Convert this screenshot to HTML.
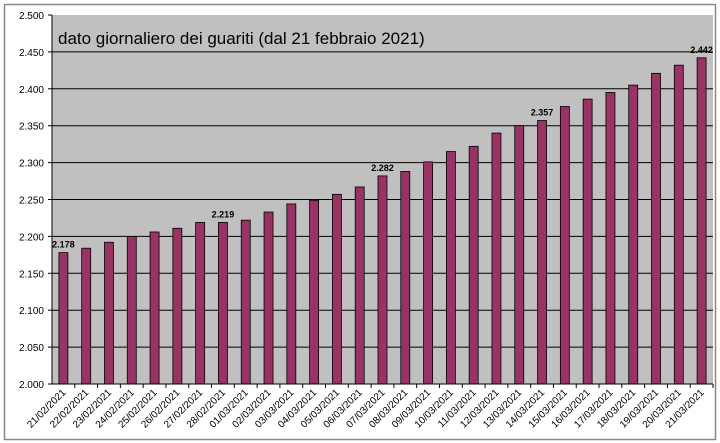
<!DOCTYPE html>
<html><head><meta charset="utf-8"><style>
html,body{margin:0;padding:0;background:#fff;}
svg{display:block;font-family:"Liberation Sans",sans-serif;}
</style></head><body>
<svg id="chart" width="720" height="443" viewBox="0 0 720 443" xmlns="http://www.w3.org/2000/svg">
<rect x="0" y="0" width="720" height="443" fill="#fff"/>
<rect x="4.5" y="4.5" width="711" height="435" fill="#fff" stroke="#888" stroke-width="1.5"/>
<rect x="52" y="15" width="661" height="369" fill="#c0c0c0"/>
<g id="grid"></g><g id="bars"></g><g id="axes"></g><g id="labels"></g>
<text x="58" y="44" font-size="17" fill="#000">dato giornaliero dei guariti (dal 21 febbraio 2021)</text>
</svg>
<script>
const categories = ["21/02/2021","22/02/2021","23/02/2021","24/02/2021","25/02/2021","26/02/2021","27/02/2021","28/02/2021","01/03/2021","02/03/2021","03/03/2021","04/03/2021","05/03/2021","06/03/2021","07/03/2021","08/03/2021","09/03/2021","10/03/2021","11/03/2021","12/03/2021","13/03/2021","14/03/2021","15/03/2021","16/03/2021","17/03/2021","18/03/2021","19/03/2021","20/03/2021","21/03/2021"];
const values = [2178,2184,2192,2200,2206,2211,2219,2219,2222,2233,2244,2249,2257,2267,2282,2288,2301,2315,2322,2340,2350,2357,2376,2386,2395,2405,2421,2432,2442];
const labelled = ["21/02/2021","28/02/2021","07/03/2021","14/03/2021","21/03/2021"];
const yTicks = [2000,2050,2100,2150,2200,2250,2300,2350,2400,2450,2500];
const yTickLabels = ["2.000","2.050","2.100","2.150","2.200","2.250","2.300","2.350","2.400","2.450","2.500"];
const NS="http://www.w3.org/2000/svg";
const L=52,R=713,T=15,B=384,YMIN=2000,YMAX=2500;
const y=v=>B-(v-YMIN)/(YMAX-YMIN)*(B-T);
const band=(R-L)/categories.length;
const x=i=>L+band*(i+0.5);
function mk(tag,attrs,parent){const e=document.createElementNS(NS,tag);for(const k in attrs)e.setAttribute(k,attrs[k]);document.getElementById(parent).appendChild(e);return e;}
const fmt=v=>{const s=String(v);return s.slice(0,s.length-3)+"."+s.slice(-3);};
yTicks.forEach((t,i)=>{
  if(i>0&&i<yTicks.length-1){const g=mk("line",{x1:L,x2:R,y1:y(t),y2:y(t),stroke:"#000","stroke-width":1},"grid");
  
  }
  const tk=mk("line",{x1:L-4,x2:L,y1:y(t),y2:y(t),stroke:"#000"},"axes");
  
  
  const tl=mk("text",{x:L-8,y:y(t)+4,"font-size":10,"text-anchor":"end",fill:"#000"},"axes");
  tl.textContent=yTickLabels[i];
  
  
});
const ya=mk("line",{x1:L,x2:L,y1:T,y2:B,stroke:"#000"},"axes");


const xa=mk("line",{x1:L,x2:R,y1:B,y2:B,stroke:"#000"},"axes");


categories.forEach((c,i)=>{
  const bw=9;
  const b=mk("rect",{x:x(i)-bw/2,y:y(values[i]),width:bw,height:B-y(values[i]),fill:"#993366",stroke:"#000","stroke-width":0.8},"bars");
  
  
  const tk=mk("line",{x1:L+band*(i+1),x2:L+band*(i+1),y1:B,y2:B+4,stroke:"#000"},"axes");
  
  
  const xl=x(i)+3,yl=B+9;
  const tl=mk("text",{x:xl,y:yl,"font-size":10,"text-anchor":"end",fill:"#000",transform:`rotate(-45 ${xl} ${yl})`},"axes");
  tl.textContent=c;
  
  
  if(labelled.includes(c)){
    const v=mk("text",{x:x(i),y:y(values[i])-5,"font-size":9,"font-weight":"bold","text-anchor":"middle",fill:"#000"},"labels");
    v.textContent=fmt(values[i]);
    
    
  }
});
</script>
</body></html>
